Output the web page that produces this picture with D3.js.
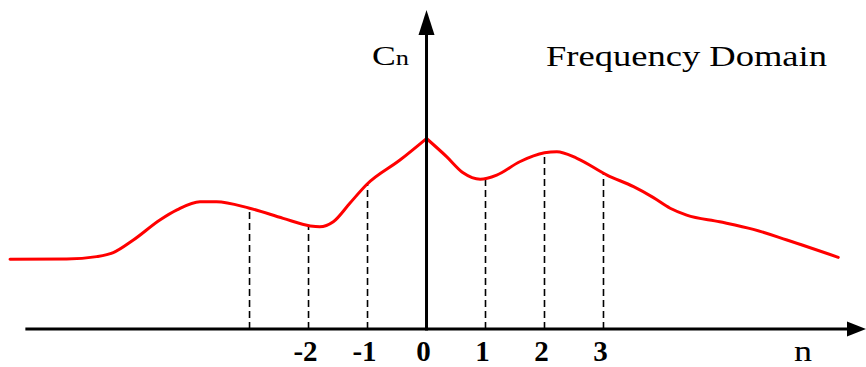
<!DOCTYPE html>
<html><head><meta charset="utf-8">
<script src="https://cdn.jsdelivr.net/npm/d3@7"></script>
<style>html,body{margin:0;padding:0;background:#fff}svg{display:block}</style>
</head><body>
<svg id="chart" width="866" height="367"></svg>
<script>
// Spectrum envelope: harmonic index n (continuous) and magnitude C_n
const envelopeN = [-7.06, -6.10, -5.59, -5.31, -4.97, -4.52, -4.23, -3.84, -3.56, -3.00, -2.43, -1.97, -1.81, -1.58, -1.30, -1.01, -0.45, 0.00,
                   0.34, 0.62, 0.91, 1.19, 1.58, 2.00, 2.21, 2.55, 3.06, 3.51, 3.84, 4.13, 4.41, 4.97, 5.54, 6.11, 6.98];
const envelopeC = [0.366, 0.367, 0.380, 0.401, 0.467, 0.572, 0.625, 0.668, 0.668, 0.634, 0.581, 0.541, 0.537, 0.563, 0.660, 0.760, 0.887, 1.000,
                   0.905, 0.820, 0.786, 0.808, 0.878, 0.925, 0.931, 0.896, 0.808, 0.747, 0.691, 0.634, 0.598, 0.563, 0.523, 0.467, 0.376];
// Discrete harmonics marked on the axis
const harmonics = [-3, -2, -1, 0, 1, 2, 3];
const tickLabels = ["", "-2", "-1", "0", "1", "2", "3"];
const yAxisLabel = "C", yAxisSub = "n";
const xAxisLabel = "n";
const titleText = "Frequency Domain";

const svg = d3.select("#chart");
const W = 866, H = 367;

const x = d3.scaleLinear().domain([-7.23, 7.45]).range([0, W]);
const y = d3.scaleLinear().domain([0, 1]).range([329, 138.5]);

const serif = "'Liberation Serif', 'Times New Roman', serif";

// Envelope, drawn as two smooth branches meeting at the cusp n = 0
const pts = envelopeN.map((n, i) => ({ n, c: envelopeC[i] }));
const left = pts.filter(d => d.n <= 0);
const right = pts.filter(d => d.n >= 0);
const line = d3.line().x(d => x(d.n)).y(d => y(d.c)).curve(d3.curveMonotoneX);

const curveG = svg.append("g");
const paths = [left, right].map(seg =>
  curveG.append("path")
    .attr("d", line(seg))
    .attr("fill", "none")
    .attr("stroke", "#ff0000")
    .attr("stroke-width", 3)
    .attr("stroke-linejoin", "round")
    .attr("stroke-linecap", "round")
    .node());

// height of the drawn envelope at a given pixel x
function curveYAt(px) {
  const node = px <= x(0) ? paths[0] : paths[1];
  const total = node.getTotalLength();
  let lo = 0, hi = total;
  for (let k = 0; k < 40; k++) {
    const mid = (lo + hi) / 2;
    if (node.getPointAtLength(mid).x < px) lo = mid; else hi = mid;
  }
  return node.getPointAtLength((lo + hi) / 2).y;
}

// Dashed drop lines at each harmonic
svg.insert("g", ":first-child")
  .selectAll("line")
  .data(harmonics.filter(n => n !== 0))
  .join("line")
  .attr("x1", n => x(n)).attr("x2", n => x(n))
  .attr("y1", y(0)).attr("y2", n => curveYAt(x(n)))
  .attr("stroke", "#000")
  .attr("stroke-width", 1.6)
  .attr("stroke-dasharray", "7,4");

// Axes with arrowheads
const axes = svg.append("g");
const x0 = x(-6.8), xTip = W, yTip = y(1.675);
axes.append("line")
  .attr("x1", x0).attr("x2", xTip - 16)
  .attr("y1", y(0)).attr("y2", y(0))
  .attr("stroke", "#000").attr("stroke-width", 3);
axes.append("path")
  .attr("d", `M${xTip},${y(0)} L${xTip - 19},${y(0) - 7.5} L${xTip - 19},${y(0) + 7.5} Z`)
  .attr("fill", "#000");
axes.append("line")
  .attr("x1", x(0)).attr("x2", x(0))
  .attr("y1", y(0) + 1.5).attr("y2", yTip + 20)
  .attr("stroke", "#000").attr("stroke-width", 3);
axes.append("path")
  .attr("d", `M${x(0)},${yTip} L${x(0) - 8},${yTip + 25} L${x(0) + 8},${yTip + 25} Z`)
  .attr("fill", "#000");

// Harmonic labels
svg.append("g")
  .selectAll("text")
  .data(harmonics)
  .join("text")
  .attr("x", n => x(n) - 3)
  .attr("y", 361)
  .attr("text-anchor", "middle")
  .attr("font-family", serif)
  .attr("font-weight", "bold")
  .attr("font-size", 29)
  .text((n, i) => tickLabels[i]);

// Axis titles
const cLabel = svg.append("text")
  .attr("x", 372).attr("y", 65)
  .attr("font-family", serif)
  .attr("font-size", 27)
  .attr("textLength", 37)
  .attr("lengthAdjust", "spacingAndGlyphs");
cLabel.append("tspan").text(yAxisLabel);
cLabel.append("tspan").attr("font-size", 20).text(yAxisSub);

svg.append("text")
  .attr("x", 794).attr("y", 361)
  .attr("font-family", serif)
  .attr("font-size", 29)
  .attr("textLength", 18)
  .attr("lengthAdjust", "spacingAndGlyphs")
  .text(xAxisLabel);

svg.append("text")
  .attr("x", 546).attr("y", 66)
  .attr("font-family", serif)
  .attr("font-size", 30)
  .attr("textLength", 281)
  .attr("lengthAdjust", "spacingAndGlyphs")
  .text(titleText);
</script>
</body></html>
